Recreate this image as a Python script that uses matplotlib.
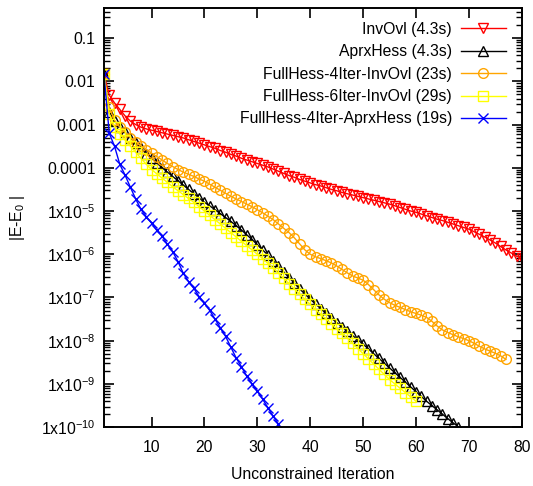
import numpy as np
import matplotlib.pyplot as plt
from matplotlib.ticker import FixedLocator, LogLocator, NullFormatter

plt.rcParams['font.family'] = ['Liberation Sans', 'DejaVu Sans']
plt.rcParams['mathtext.default'] = 'regular'

# log10 |E-E0| per unconstrained iteration
invovl_log = [-1.83, -2.32, -2.50, -2.65, -2.80, -2.92, -3.00, -3.06, -3.10, -3.13,
              -3.16, -3.19, -3.22, -3.25, -3.28, -3.31, -3.35, -3.39, -3.43, -3.47,
              -3.51, -3.55, -3.60, -3.64, -3.69, -3.73, -3.78, -3.82, -3.86, -3.90,
              -3.94, -3.98, -4.03, -4.08, -4.13, -4.18, -4.22, -4.27, -4.31, -4.35,
              -4.39, -4.42, -4.46, -4.50, -4.53, -4.57, -4.60, -4.63, -4.66, -4.69,
              -4.72, -4.75, -4.78, -4.81, -4.84, -4.88, -4.92, -4.96, -5.00, -5.03,
              -5.07, -5.11, -5.15, -5.19, -5.22, -5.26, -5.30, -5.34, -5.38, -5.42,
              -5.48, -5.54, -5.60, -5.67, -5.74, -5.82, -5.90, -5.97, -6.04, -6.09]

aprxhess_log = [-1.83, -2.70, -2.92, -3.05, -3.18, -3.30, -3.43, -3.55, -3.67, -3.78,
                -3.89, -4.00, -4.10, -4.20, -4.30, -4.40, -4.50, -4.60, -4.70, -4.80,
                -4.88, -4.97, -5.06, -5.15, -5.24, -5.34, -5.44, -5.55, -5.66, -5.78,
                -5.90, -6.02, -6.15, -6.28, -6.41, -6.54, -6.67, -6.80, -6.92, -7.04,
                -7.15, -7.26, -7.37, -7.48, -7.58, -7.68, -7.78, -7.88, -7.98, -8.08,
                -8.19, -8.30, -8.41, -8.52, -8.63, -8.74, -8.85, -8.96, -9.07, -9.18,
                -9.29, -9.40, -9.50, -9.60, -9.70, -9.80, -9.90, -9.99]

fh4_invovl_log = [-1.83, -2.60, -2.90, -3.06, -3.18, -3.30, -3.40, -3.49, -3.58, -3.66,
                  -3.74, -3.82, -3.90, -3.97, -4.04, -4.10, -4.15, -4.20, -4.26, -4.31,
                  -4.38, -4.45, -4.52, -4.59, -4.66, -4.72, -4.78, -4.84, -4.90, -4.97,
                  -5.04, -5.12, -5.20, -5.30, -5.40, -5.50, -5.62, -5.76, -5.90, -6.00,
                  -6.06, -6.10, -6.15, -6.20, -6.27, -6.35, -6.43, -6.50, -6.55, -6.60,
                  -6.70, -6.82, -6.94, -7.04, -7.12, -7.18, -7.23, -7.28, -7.33, -7.37,
                  -7.41, -7.46, -7.55, -7.66, -7.75, -7.81, -7.86, -7.91, -7.95, -8.00,
                  -8.06, -8.13, -8.19, -8.24, -8.29, -8.35, -8.43]

fh6_invovl_log = [-1.83, -2.75, -3.05, -3.22, -3.36, -3.50, -3.64, -3.78, -3.92, -4.04,
                  -4.14, -4.24, -4.34, -4.44, -4.53, -4.62, -4.71, -4.80, -4.90, -5.00,
                  -5.10, -5.20, -5.30, -5.40, -5.50, -5.60, -5.70, -5.80, -5.90, -6.00,
                  -6.10, -6.21, -6.32, -6.44, -6.56, -6.68, -6.80, -6.92, -7.04, -7.16,
                  -7.28, -7.39, -7.50, -7.61, -7.72, -7.83, -7.94, -8.06, -8.18, -8.30,
                  -8.42, -8.54, -8.66, -8.78, -8.90, -9.00, -9.10, -9.20, -9.30, -9.40]

fh4_aprxhess_log = [-1.83, -3.20, -3.50, -3.92, -4.17, -4.45, -4.72, -4.96, -5.13, -5.28,
                    -5.45, -5.58, -5.77, -5.94, -6.17, -6.44, -6.63, -6.79, -6.98, -7.13,
                    -7.30, -7.50, -7.70, -7.90, -8.15, -8.40, -8.60, -8.82, -9.00, -9.17,
                    -9.35, -9.55, -9.75, -9.93]

series = [
    ('InvOvl (4.3s)', invovl_log, '#ff0000', 'v'),
    ('AprxHess (4.3s)', aprxhess_log, '#000000', '^'),
    ('FullHess-4Iter-InvOvl (23s)', fh4_invovl_log, '#ffa500', 'o'),
    ('FullHess-6Iter-InvOvl (29s)', fh6_invovl_log, '#ffff00', 's'),
    ('FullHess-4Iter-AprxHess (19s)', fh4_aprxhess_log, '#0000ff', 'x'),
]

ytick_vals = [1e-10, 1e-9, 1e-8, 1e-7, 1e-6, 1e-5, 1e-4, 1e-3, 1e-2, 1e-1]
ytick_labels = ['1x10$^{-10}$', '1x10$^{-9}$', '1x10$^{-8}$', '1x10$^{-7}$',
                '1x10$^{-6}$', '1x10$^{-5}$', '0.0001', '0.001', '0.01', '0.1']
xtick_vals = [10, 20, 30, 40, 50, 60, 70, 80]

fig = plt.figure(figsize=(5.33, 4.86), dpi=100)
ax = fig.add_axes([0.195, 0.121, 0.784, 0.862])

for label, vals, color, marker in series:
    it = np.arange(1, len(vals) + 1)
    ax.plot(it, np.power(10.0, vals), color=color, lw=1.0, marker=marker,
            ms=7, mfc='none', mec=color, mew=1.0, label=label, clip_on=True)

ax.set_yscale('log')
ax.set_xlim(1, 80)
ax.set_ylim(1e-10, 0.49)

ax.yaxis.set_major_locator(FixedLocator(ytick_vals))
ax.set_yticklabels(ytick_labels)
ax.yaxis.set_minor_locator(LogLocator(base=10, subs=np.arange(2, 10), numticks=20))
ax.yaxis.set_minor_formatter(NullFormatter())
ax.set_xticks(xtick_vals)

fs = 11.3
ax.tick_params(which='major', direction='in', length=7, width=1.2,
               top=True, right=True, labelsize=fs, pad=6)
ax.tick_params(which='minor', direction='in', length=4, width=1.0,
               left=True, right=True)
ax.tick_params(axis='x', pad=9)
for s in ax.spines.values():
    s.set_linewidth(1.4)

ax.set_xlabel('Unconstrained Iteration', fontsize=fs, labelpad=9)
ax.set_ylabel('|E-E$_0$ |', fontsize=fs, labelpad=10)

ax.legend(loc='upper right', bbox_to_anchor=(0.985, 0.99), frameon=False,
          markerfirst=False, handlelength=2.9, handletextpad=0.55,
          labelspacing=0.47, fontsize=fs, borderaxespad=0.2)

fig.savefig('out.png', dpi=100)
